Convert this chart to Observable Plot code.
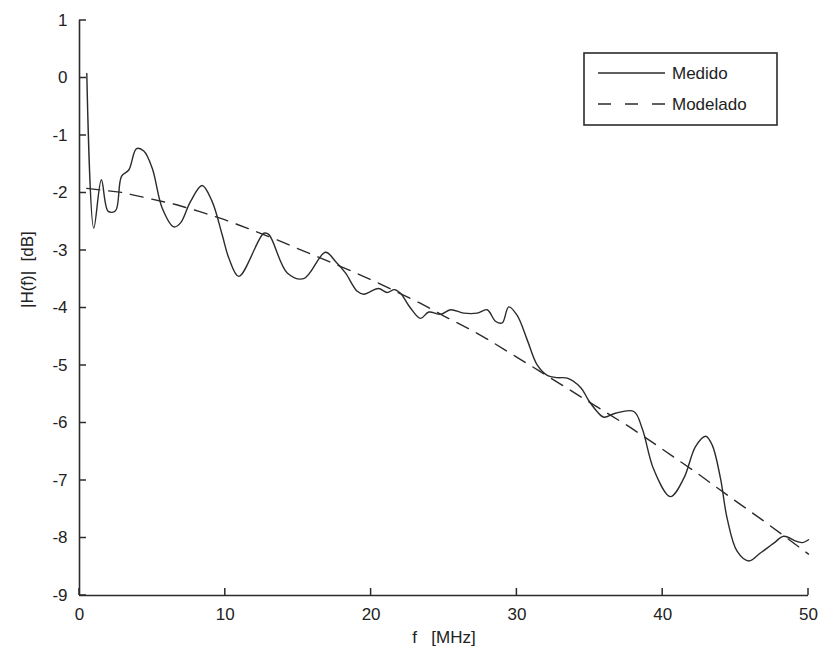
<!DOCTYPE html>
<html><head><meta charset="utf-8">
<script src="https://cdn.jsdelivr.net/npm/d3@7"></script>
<script src="https://cdn.jsdelivr.net/npm/@observablehq/plot@0.6"></script>
<style>
html,body{margin:0;padding:0;background:#fff;}
#wrap{position:relative;width:819px;height:655px;}
#legend{position:absolute;left:583px;top:52px;}
</style></head><body><div id="wrap"></div>
<script>
const measuredF = [0.5, 0.98, 1.5, 1.97, 2.47, 2.88, 3.38, 3.91, 4.41, 4.99, 5.67, 6.47, 6.93, 7.61, 8.41, 9.1, 9.79, 10.24, 10.93, 12.64, 12.98, 14.25, 15.38, 16.87, 17.56, 18.24, 19.05, 19.5, 20.5, 21.1, 21.6, 22.0, 22.7, 23.39, 23.96, 24.76, 25.45, 26.36, 27.27, 27.96, 28.53, 28.99, 29.44, 30.02, 30.7, 31.39, 32.08, 32.76, 33.45, 34.4, 34.9, 35.5, 35.96, 36.76, 38.02, 38.6, 39.39, 40.53, 41.45, 42.25, 42.94, 43.39, 43.96, 44.42, 45.1, 45.9, 46.7, 47.62, 48.3, 49.2, 49.6, 50.0];
const measuredH = [0.08, -2.61, -1.77, -2.32, -2.31, -1.71, -1.6, -1.23, -1.27, -1.57, -2.26, -2.59, -2.52, -2.15, -1.87, -2.15, -2.73, -3.13, -3.45, -2.7, -2.72, -3.39, -3.49, -3.03, -3.19, -3.39, -3.71, -3.76, -3.66, -3.73, -3.68, -3.74, -4.0, -4.18, -4.07, -4.11, -4.03, -4.09, -4.09, -4.03, -4.23, -4.26, -3.98, -4.13, -4.55, -4.99, -5.17, -5.21, -5.22, -5.39, -5.6, -5.8, -5.9, -5.83, -5.8, -6.1, -6.81, -7.28, -6.96, -6.41, -6.23, -6.38, -6.96, -7.66, -8.23, -8.4, -8.26, -8.09, -7.97, -8.06, -8.08, -8.03];
const modelF = [0.5, 2.9, 4.5, 6.6, 8.2, 9.9, 11.6, 13.4, 15.0, 16.8, 18.5, 20.2, 23.4, 25.0, 26.7, 28.1, 29.9, 31.5, 33.1, 34.6, 37.8, 39.2, 40.8, 42.3, 43.7, 45.3, 46.8, 48.3, 50.0];
const modelH = [-1.92, -1.99, -2.08, -2.2, -2.32, -2.46, -2.62, -2.8, -2.97, -3.16, -3.34, -3.53, -3.92, -4.14, -4.36, -4.56, -4.84, -5.09, -5.34, -5.58, -6.08, -6.32, -6.6, -6.86, -7.12, -7.41, -7.68, -7.96, -8.28];
const xTicks = [0, 10, 20, 30, 40, 50];
const yTicks = [1, 0, -1, -2, -3, -4, -5, -6, -7, -8, -9];
const seriesNames = ["Medido", "Modelado"];
const xLabel = "f\u00a0\u00a0\u00a0[MHz]";
const yLabel = "|H(f)|\u00a0\u00a0[dB]";

const measured = measuredF.map((f, i) => ({f, h: measuredH[i]}));
const model = modelF.map((f, i) => ({f, h: modelH[i]}));
const ink = "#2b2b2b";
const dash = "13,9";

const chart = Plot.plot({
  width: 819, height: 655,
  marginLeft: 79, marginRight: 11, marginTop: 20, marginBottom: 60,
  style: {fontFamily: "'Liberation Sans', Arial, sans-serif", fontSize: "17px", color: "#222", background: "#fff"},
  x: {domain: [0, 50], ticks: xTicks, tickFormat: d => String(d), label: null},
  y: {domain: [-9, 1], ticks: yTicks, tickFormat: d => String(d), label: null},
  marks: [
    Plot.axisX({ticks: xTicks, tickFormat: d => String(d), tickSize: 0, tickPadding: 12, label: null}),
    Plot.axisY({ticks: yTicks, tickFormat: d => String(d), tickSize: 0, tickPadding: 12, label: null}),
    Plot.ruleX([0], {stroke: ink, strokeWidth: 1.6}),
    Plot.ruleY([-9], {stroke: ink, strokeWidth: 1.6}),
    Plot.line(model, {x: "f", y: "h", stroke: ink, strokeWidth: 1.4, strokeDasharray: dash}),
    Plot.line(measured, {x: "f", y: "h", stroke: ink, strokeWidth: 1.4, curve: "catmull-rom"}),
    Plot.text([xLabel], {frameAnchor: "bottom", dy: 47, text: d => d, fill: "#222"}),
    Plot.text([yLabel], {frameAnchor: "left", dx: -52, rotate: -90, text: d => d, fill: "#222"})
  ]
});
const wrap = document.getElementById("wrap");
wrap.appendChild(chart);

// inward tick marks, placed with the chart's own scales
const sx = chart.scale("x"), sy = chart.scale("y");
const svg = d3.select(chart);
const tg = svg.append("g").attr("stroke", ink).attr("stroke-width", 1.5);
xTicks.forEach(t => {
  const px = sx.apply(t), py = sy.apply(-9);
  tg.append("line").attr("x1", px).attr("x2", px).attr("y1", py).attr("y2", py - 7);
});
yTicks.forEach(t => {
  const px = sx.apply(0), py = sy.apply(t);
  tg.append("line").attr("x1", px).attr("x2", px + 7).attr("y1", py).attr("y2", py);
});

// legend
const lg = d3.select(wrap).append("svg").attr("id", "legend").attr("width", 196).attr("height", 75);
lg.append("rect").attr("x", 1).attr("y", 1).attr("width", 193).attr("height", 72).attr("fill", "#fff").attr("stroke", ink).attr("stroke-width", 1.6);
seriesNames.forEach((name, i) => {
  const yy = i === 0 ? 21 : 52;
  lg.append("line").attr("x1", 15).attr("x2", 82).attr("y1", yy).attr("y2", yy)
    .attr("stroke", ink).attr("stroke-width", 1.4).attr("stroke-dasharray", i === 0 ? null : "13,14");
  lg.append("text").attr("x", 89).attr("y", yy).attr("dy", "0.35em")
    .attr("font-family", "'Liberation Sans', Arial, sans-serif").attr("font-size", 17).attr("fill", "#222").text(name);
});
</script>
</body></html>
